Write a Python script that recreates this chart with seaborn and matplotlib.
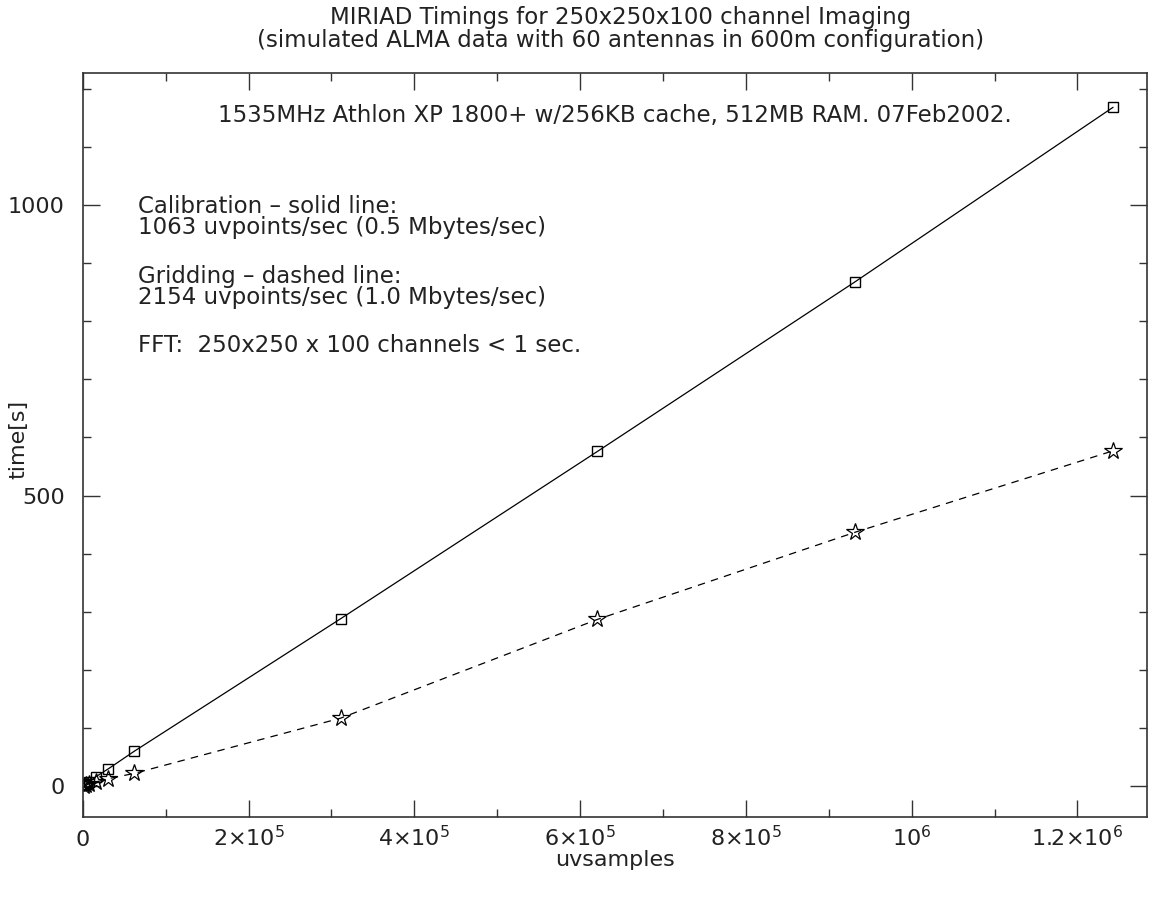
import matplotlib.pyplot as plt
import numpy as np
import pandas as pd
import seaborn as sns
from matplotlib.ticker import FixedFormatter, MultipleLocator


# uvsamples per run and measured times [s]
UVSAMPLES = [1.243e6, 9.32e5, 6.21e5, 3.11e5, 6.2e4, 3.1e4, 1.55e4, 7.8e3, 3.9e3, 1.9e3]
CALIB_TIME = [1168, 868, 576, 288, 60, 30, 16, 8, 4, 2]
GRID_TIME = [577, 437, 287, 117, 22, 13, 7, 4, 2, 1]

X_TICKS = [0, 2e5, 4e5, 6e5, 8e5, 1e6, 1.2e6]
X_TICK_LABELS = ["0", "2\u00d710$^{5}$", "4\u00d710$^{5}$", "6\u00d710$^{5}$",
                 "8\u00d710$^{5}$", "10$^{6}$", "1.2\u00d710$^{6}$"]
Y_TICKS = [0, 500, 1000]

TITLE_1 = "MIRIAD Timings for 250x250x100 channel Imaging"
TITLE_2 = "(simulated ALMA data with 60 antennas in 600m configuration)"
MACHINE = "1535MHz Athlon XP 1800+ w/256KB cache, 512MB RAM. 07Feb2002."
NOTES = [
    ("Calibration \u2013 solid line:", 0.821),
    ("1063 uvpoints/sec (0.5 Mbytes/sec)", 0.792),
    ("Gridding \u2013 dashed line:", 0.727),
    ("2154 uvpoints/sec (1.0 Mbytes/sec)", 0.698),
    ("FFT:  250x250 x 100 channels < 1 sec.", 0.634),
]


def main() -> None:
    sns.set_theme(style="ticks")
    plt.rcParams["font.family"] = ["DejaVu Sans"]
    plt.rcParams["mathtext.default"] = "regular"
    plt.rcParams["text.color"] = "#222222"

    df = pd.DataFrame({"uvsamples": UVSAMPLES, "calib": CALIB_TIME, "grid": GRID_TIME})

    fig = plt.figure(figsize=(11.49, 8.99), dpi=100)
    ax = fig.add_axes([0.072, 0.0912, 0.9263, 0.8276])

    sns.lineplot(data=df, x="uvsamples", y="calib", ax=ax, color="black", linewidth=0.9,
                 marker="s", markersize=7.5, markerfacecolor="none",
                 markeredgecolor="black", markeredgewidth=1.0, sort=True)
    sns.lineplot(data=df, x="uvsamples", y="grid", ax=ax, color="black", linewidth=0.9,
                 linestyle=(0, (6, 5)), marker="*", markersize=13, markerfacecolor="none",
                 markeredgecolor="black", markeredgewidth=0.9, sort=True)

    ax.set_xlim(0, 1.284e6)
    ax.set_ylim(-53, 1227)

    ax.set_xticks(X_TICKS)
    ax.xaxis.set_major_formatter(FixedFormatter(X_TICK_LABELS))
    ax.xaxis.set_minor_locator(MultipleLocator(1e5))
    ax.set_yticks(Y_TICKS)
    ax.set_yticklabels([str(v) for v in Y_TICKS])
    ax.yaxis.set_minor_locator(MultipleLocator(100))

    ax.tick_params(which="both", direction="in", top=True, right=True,
                   color="#333333", width=1.0, labelsize=16, labelcolor="#222222")
    ax.tick_params(which="major", length=12)
    ax.tick_params(which="minor", length=6)
    ax.tick_params(axis="y", which="major", pad=13)
    ax.tick_params(axis="x", which="major", pad=21)
    plt.setp(ax.get_xticklabels(), va="baseline")

    for spine in ax.spines.values():
        spine.set_color("#333333")
        spine.set_linewidth(1.2)

    ax.set_xlabel("uvsamples", fontsize=16, color="#222222")
    ax.xaxis.set_label_coords(0.5, -0.045)
    ax.set_ylabel("time[s]", fontsize=16, color="#222222")
    ax.yaxis.set_label_coords(-0.051, 0.507)

    fig.text(0.54, 0.981, TITLE_1, ha="center", va="center", fontsize=16.5)
    fig.text(0.54, 0.955, TITLE_2, ha="center", va="center", fontsize=16.5)

    ax.text(0.127, 0.9435, MACHINE, transform=ax.transAxes, ha="left", va="center", fontsize=16.5)
    for text, y in NOTES:
        ax.text(0.052, y, text, transform=ax.transAxes, ha="left", va="center", fontsize=16.5)

    fig.savefig("out.png", dpi=100)
    plt.close(fig)


if __name__ == "__main__":
    main()
